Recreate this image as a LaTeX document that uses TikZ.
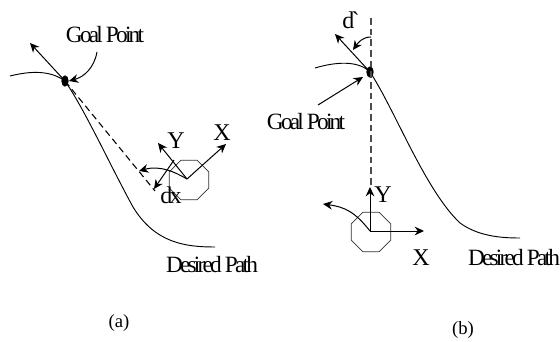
\documentclass[tikz,border=0pt]{standalone}
\usepackage{fontspec}
\setmainfont{Liberation Serif}
\newfontface\tightface[LetterSpace=-12]{Liberation Serif}
\usetikzlibrary{arrows.meta, shapes.geometric}

\begin{document}
\begin{tikzpicture}[
        x=0.75pt, y=-0.75pt,
        pathline/.style={line width=0.7pt},
        arrow/.style={-{Stealth[length=7pt, width=6.5pt]}, line width=0.75pt},
        guide/.style={dashed, dash pattern=on 5pt off 3pt, line width=0.8pt},
        goaldot/.style={ellipse, fill=black, inner sep=0pt, minimum width=5.5pt, minimum height=8.5pt},
        robot/.style={regular polygon, regular polygon sides=8, draw, black!80, inner sep=0pt, minimum size=32pt, line width=0.65pt},
        tightlabel/.style={font=\tightface\fontsize{17.5}{17.5}\selectfont, inner sep=0pt},
        axislabel/.style={font=\fontsize{18}{18}\selectfont, inner sep=0pt},
        caption/.style={font=\fontsize{14}{14}\selectfont, inner sep=0pt}
    ]
        \useasboundingbox (0,0) rectangle (560,342);

        % Left figure
        \node[goaldot] (goalA) at (65,81) {};
        \node[robot] (robotA) at (189,180) {};
        \coordinate (centerA) at (187,179);
        \coordinate (startA) at (10,76);
        \coordinate (midA) at (133,207);
        \coordinate (endA) at (215,247);
        \draw[pathline] (startA) .. controls (30,71) and (50,70) .. (goalA.center) .. controls (85,110) and (110,165) .. (midA) .. controls (155,243) and (185,247) .. (endA);
        \node[tightlabel] (goaltextA) at (105,35) {Goal Point};
        \node[tightlabel] (desiredA) at (212,265) {Desired Path};
        \node[axislabel] (xA) at (222,133) {X};
        \node[axislabel] (yA) at (176,141) {Y};
        \node[tightlabel, font=\tightface\fontsize{18}{18}\selectfont] (dxA) at (171,195) {dx};
        \node[caption] (capA) at (119,323) {(a)};

        \coordinate (headingA) at (30,43);
        \coordinate (goalfromA) at (97,52);
        \coordinate (dashendA) at (155,191);
        \coordinate (xtipA) at (226,144);
        \coordinate (ytipA) at (158,143);
        \coordinate (dxfromA) at (174,160);
        \coordinate (dxtipA) at (154,189);
        \coordinate (turntipA) at (139,171);
        \draw[arrow] (goalA.center) -- (headingA);
        \draw[arrow] (goalfromA) to[out=-100, in=15] (goalA.east);
        \draw[guide] (goalA.center) -- (dashendA);
        \draw[arrow] (centerA) -- (xtipA);
        \draw[arrow] (centerA) -- (ytipA);
        \draw[arrow] (dxfromA) -- (dxtipA);
        \draw[arrow] (centerA) .. controls (175,172) and (160,165) .. (turntipA);

        % Right figure
        \node[goaldot] (goalB) at (370,72) {};
        \node[robot] (robotB) at (371,232) {};
        \coordinate (centerB) at (370,231);
        \coordinate (startB) at (315,68);
        \coordinate (midB) at (460,223);
        \coordinate (endB) at (520,238);
        \draw[pathline] (startB) .. controls (335,62) and (358,60) .. (goalB.center) .. controls (395,110) and (425,190) .. (midB) .. controls (478,236) and (500,238) .. (endB);
        \node[tightlabel] (goaltextB) at (306,122) {Goal Point};
        \node[tightlabel] (desiredB) at (514,258) {Desired Path};
        \node[axislabel] (xB) at (421,258) {X};
        \node[axislabel] (yB) at (383,195) {Y};
        \node[tightlabel, font=\tightface\fontsize{18}{18}\selectfont] (angleB) at (351,20) {d`};
        \node[caption] (capB) at (463,330) {(b)};

        \coordinate (headingB) at (335,34);
        \coordinate (dashtopB) at (371,18);
        \coordinate (dashbotB) at (371,187);
        \coordinate (ytipB) at (370,187);
        \coordinate (xtipB) at (424,231);
        \coordinate (turntipB) at (323,204);
        \coordinate (anglefromB) at (371,37);
        \coordinate (angletipB) at (353,50);
        \coordinate (goalfromB) at (318,105);
        \coordinate (goaltipB) at (363,77);
        \draw[arrow] (goalB.center) -- (headingB);
        \draw[guide, black!70] (dashtopB) -- (dashbotB);
        \draw[arrow] (centerB) -- (ytipB);
        \draw[arrow] (centerB) -- (xtipB);
        \draw[arrow] (centerB) .. controls (355,212) and (345,207) .. (turntipB);
        \draw[arrow] (anglefromB) to[out=180, in=55] (angletipB);
        \draw[arrow] (goalfromB) -- (goaltipB);
    \end{tikzpicture}
\end{document}
